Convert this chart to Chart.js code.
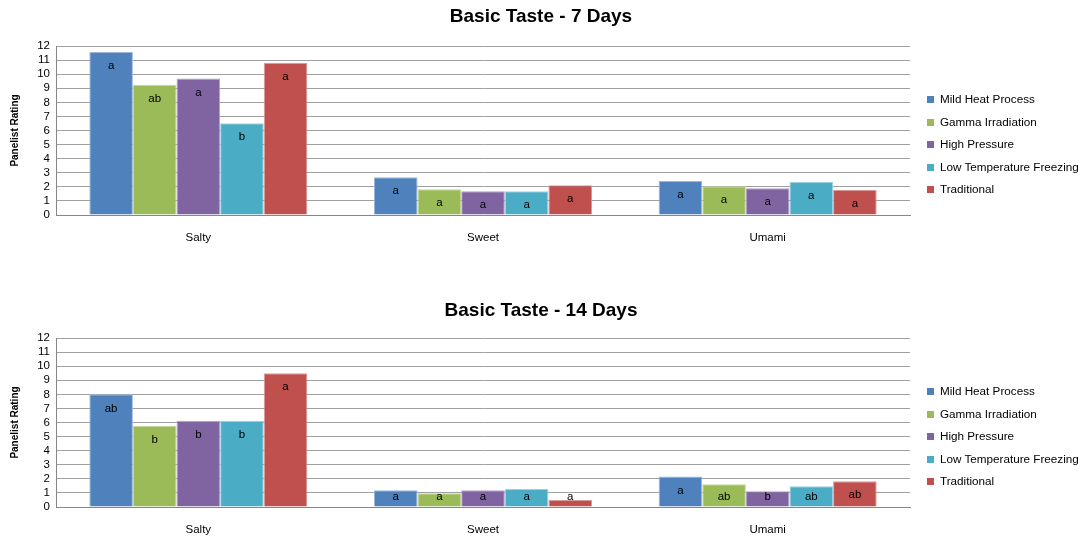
<!DOCTYPE html>
<html>
<head>
<meta charset="utf-8">
<script src="https://cdn.jsdelivr.net/npm/chart.js@4.4.0/dist/chart.umd.min.js"></script>
<style>
  body { margin:0; background:#fff; font-family:"Liberation Sans", Arial, sans-serif; }
  .box { position:absolute; left:0; width:1082px; height:245px; }
  .title { position:absolute; left:0; width:1082px; text-align:center; font-weight:bold; font-size:19px; line-height:22px; color:#000; }
  .legend { position:absolute; left:927px; font-size:11.7px; color:#000; }
  .legend div { position:absolute; white-space:nowrap; height:14px; line-height:14px; }
  .legend span { display:inline-block; width:7px; height:7px; margin-right:6px; vertical-align:0px; }
</style>
</head>
<body>
<div class="box" style="top:0"><canvas id="chart7"></canvas></div>
<div class="title" style="top:5px">Basic Taste - 7 Days</div>
<div class="legend" id="leg7" style="top:92px"></div>
<div class="box" style="top:292px"><canvas id="chart14"></canvas></div>
<div class="title" style="top:299px">Basic Taste - 14 Days</div>
<div class="legend" id="leg14" style="top:384px"></div>
<script>
const categories = ['Salty', 'Sweet', 'Umami'];
const seriesNames = ['Mild Heat Process', 'Gamma Irradiation', 'High Pressure', 'Low Temperature Freezing', 'Traditional'];
const colors = ['#4F81BD', '#9BBB59', '#8064A2', '#4BACC6', '#C0504D'];
const edges = ['#9db8dc', '#c4d79d', '#b0a0c8', '#9ad2e0', '#dc9a98'];
const yTicks = [0, 12, 1]; // min, max, step

// 7 days
const mild7  = [11.57, 2.68, 2.42];
const gamma7 = [9.25, 1.83, 2.04];
const high7  = [9.70, 1.69, 1.90];
const lowT7  = [6.52, 1.69, 2.35];
const trad7  = [10.81, 2.11, 1.80];
const sig7 = [['a','a','a'], ['ab','a','a'], ['a','a','a'], ['b','a','a'], ['a','a','a']];

// 14 days
const mild14  = [8.00, 1.19, 2.16];
const gamma14 = [5.77, 0.97, 1.62];
const high14  = [6.13, 1.19, 1.12];
const lowT14  = [6.13, 1.28, 1.47];
const trad14  = [9.50, 0.50, 1.83];
const sig14 = [['ab','a','a'], ['b','a','ab'], ['b','a','b'], ['b','a','ab'], ['a','a','ab']];

const sigLabels = {
  id: 'sigLabels',
  afterDatasetsDraw(chart, args, opts) {
    const ctx = chart.ctx;
    ctx.save();
    ctx.font = '11.5px "Liberation Sans", Arial, sans-serif';
    ctx.fillStyle = '#000';
    ctx.textAlign = 'center';
    ctx.textBaseline = 'middle';
    chart.data.datasets.forEach((ds, i) => {
      chart.getDatasetMeta(i).data.forEach((bar, j) => {
        const y = Math.min(bar.y + 14, bar.base - 10);
        ctx.fillText(opts.letters[i][j], bar.x, y);
      });
    });
    ctx.restore();
  }
};

function makeChart(id, series, letters) {
  new Chart(document.getElementById(id), {
    type: 'bar',
    data: {
      labels: categories,
      datasets: series.map((vals, i) => ({
        label: seriesNames[i],
        data: vals,
        backgroundColor: colors[i],
        borderColor: edges[i],
        borderWidth: 1,
        categoryPercentage: 0.766,
        barPercentage: 1.0
      }))
    },
    options: {
      responsive: true,
      maintainAspectRatio: false,
      animation: false,
      layout: { padding: { left: 6, right: 172, top: 46, bottom: 0 } },
      plugins: {
        legend: { display: false },
        tooltip: { enabled: false },
        title: { display: false },
        sigLabels: { letters: letters }
      },
      scales: {
        x: {
          grid: { display: false, drawTicks: false },
          border: { display: true, color: '#868686' },
          ticks: { color: '#000', padding: 16, font: { family: '"Liberation Sans", Arial, sans-serif', size: 11.5 } },
          afterFit(s) { s.height = 30; }
        },
        y: {
          min: yTicks[0],
          max: yTicks[1],
          ticks: { stepSize: yTicks[2], autoSkip: false, color: '#000', padding: 6, font: { family: '"Liberation Sans", Arial, sans-serif', size: 11.5 } },
          grid: { color: '#a0a0a0', drawTicks: false },
          border: { display: true, color: '#868686' },
          title: {
            display: true,
            text: 'Panelist Rating',
            color: '#000',
            font: { family: '"Liberation Sans", Arial, sans-serif', size: 10, weight: 'bold' },
            padding: { top: 3, bottom: 0 }
          },
          afterFit(s) { s.width = 50; }
        }
      }
    },
    plugins: [sigLabels]
  });
}

function makeLegend(id) {
  const el = document.getElementById(id);
  seriesNames.forEach((name, i) => {
    const row = document.createElement('div');
    row.style.top = (i * 22.5) + 'px';
    row.innerHTML = '<span style="background:' + colors[i] + '"></span>' + name;
    el.appendChild(row);
  });
}

makeChart('chart7', [mild7, gamma7, high7, lowT7, trad7], sig7);
makeChart('chart14', [mild14, gamma14, high14, lowT14, trad14], sig14);
makeLegend('leg7');
makeLegend('leg14');
</script>
</body>
</html>
